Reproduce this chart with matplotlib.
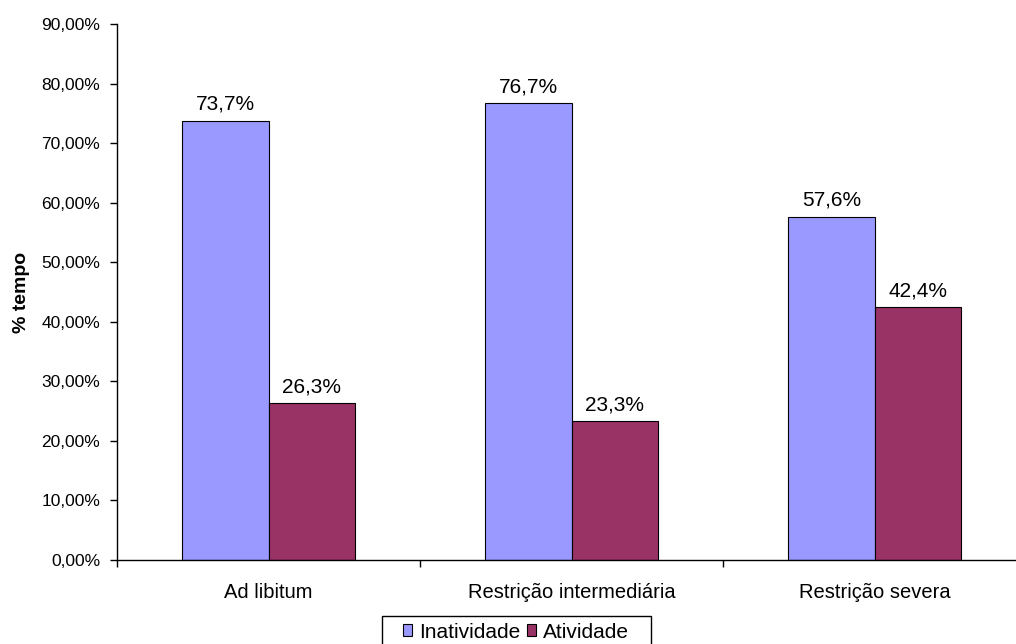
import matplotlib
matplotlib.use("Agg")
import matplotlib.pyplot as plt
from matplotlib.patches import Rectangle
from matplotlib.ticker import FuncFormatter, MultipleLocator
import numpy as np

categories = ["Ad libitum", "Restrição intermediária", "Restrição severa"]
inatividade = [73.7, 76.7, 57.6]
atividade = [26.3, 23.3, 42.4]
series_names = ["Inatividade", "Atividade"]

plt.rcParams["font.family"] = ["Liberation Sans", "DejaVu Sans"]

fig = plt.figure(figsize=(10.16, 6.44), dpi=100)
ax = fig.add_axes([117 / 1016, 84 / 644, (1026 - 117) / 1016, (560 - 24) / 644])

x = np.arange(len(categories))
w = 0.2855
b1 = ax.bar(x - w / 2, inatividade, w, color="#9999FF", edgecolor="black", linewidth=0.8,
            label=series_names[0])
b2 = ax.bar(x + w / 2, atividade, w, color="#993366", edgecolor="black", linewidth=0.8,
            label=series_names[1])

def pct(v):
    return f"{v:.1f}".replace(".", ",") + "%"

for bars, vals in ((b1, inatividade), (b2, atividade)):
    for r, v in zip(bars, vals):
        ax.annotate(pct(v), (r.get_x() + r.get_width() / 2, v), xytext=(0, 8),
                    textcoords="offset points", ha="center", va="baseline", fontsize=15)

ax.set_xlim(-0.5, len(categories) - 0.5)
ax.set_ylim(0, 90)
ax.yaxis.set_major_locator(MultipleLocator(10))
ax.yaxis.set_major_formatter(FuncFormatter(lambda v, p: f"{v:.2f}".replace(".", ",") + "%"))
ax.set_xticks(x)
ax.set_xticklabels(categories)
ax.set_xticks(np.arange(len(categories) + 1) - 0.5, minor=True)
ax.tick_params(axis="x", which="major", length=0, pad=16.5, labelsize=14.5)
ax.tick_params(axis="x", which="minor", length=5, direction="out", width=1)
ax.tick_params(axis="y", length=5, direction="out", width=1, labelsize=12.5, pad=7)

for s in ("top", "right"):
    ax.spines[s].set_visible(False)
ax.spines["left"].set_linewidth(1)
ax.spines["bottom"].set_linewidth(1)

ax.set_ylabel("% tempo", fontsize=14, fontweight="bold", labelpad=8)

# legend box drawn separately so its frame can run off the bottom edge
fig.patches.append(Rectangle((382 / 1016, -0.05), (651 - 382) / 1016, 1 - 616 / 644 + 0.05,
                             transform=fig.transFigure, facecolor="white",
                             edgecolor="black", linewidth=1, zorder=1))
leg = fig.legend(loc="center", bbox_to_anchor=(516 / 1016, 1 - 632 / 644), ncol=2,
                 frameon=False, fontsize=15,
                 handlelength=0.45, handleheight=0.45, handletextpad=0.35, columnspacing=0.3,
                 borderpad=0, borderaxespad=0)
leg.set_zorder(2)

fig.savefig("out.png", dpi=100)
